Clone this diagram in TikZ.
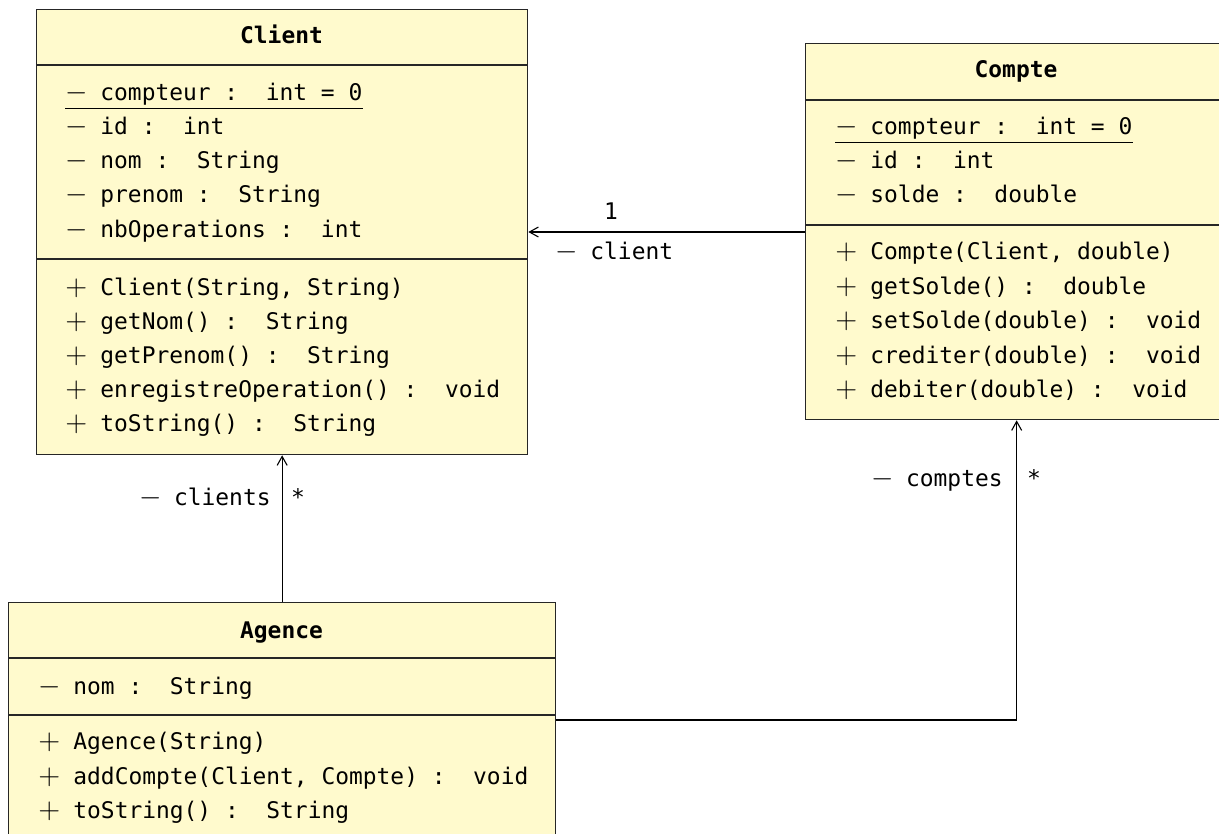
\documentclass[tikz,border=0pt]{standalone}
\usepackage{fontspec}
\setmonofont{DejaVu Sans Mono}
\usetikzlibrary{arrows.meta}
\definecolor{classfill}{RGB}{255,250,205}
\newcommand{\umlpriv}{\makebox[17.5pt][l]{\fontsize{13.5pt}{17pt}\selectfont$-$}}
\newcommand{\umlpub}{\makebox[17.5pt][l]{\fontsize{13.5pt}{17pt}\selectfont$+$}}

\begin{document}
\begin{tikzpicture}[x=0.5pt,y=-0.5pt,
    classbox/.style={draw=black!85,fill=classfill,line width=0.65pt,anchor=north west,inner sep=0pt},
    member/.style={anchor=base west,inner sep=0pt,font=\ttfamily\fontsize{11.45pt}{17pt}\selectfont},
    title/.style={anchor=base,inner sep=0pt,font=\ttfamily\bfseries\fontsize{11.45pt}{17pt}\selectfont},
    assoc/.style={-{Straight Barb[length=4.5pt,width=5pt]},line width=0.55pt},
    sep/.style={draw=black!85,line width=0.65pt}]
  \useasboundingbox (0,0) rectangle (1219,834);

  % classes
  \node[classbox,minimum width=245.5pt,minimum height=222.5pt] (client) at (36,9) {};
  \node[classbox,minimum width=211pt,minimum height=188pt] (compte) at (805,43) {};
  \node[classbox,minimum width=273.5pt,minimum height=122pt] (agence) at (8,602) {};
  \draw[sep] (client.west |- 0,65) -- (client.east |- 0,65); \draw[sep]
  (client.west |- 0,259) -- (client.east |- 0,259); \draw[sep]
  (compte.west |- 0,100) -- (compte.east |- 0,100); \draw[sep]
  (compte.west |- 0,225) -- (compte.east |- 0,225); \draw[sep]
  (agence.west |- 0,658) -- (agence.east |- 0,658); \draw[sep]
  (agence.west |- 0,715) -- (agence.east |- 0,715);

  % Client
  \node[title] (cl-t) at (281.5,44) {Client};
  \node[member] (cl-a1) at (65,101) {\umlpriv compteur :\ \ int = 0};
  \node[member] (cl-a2) at (65,135) {\umlpriv id :\ \ int};
  \node[member] (cl-a3) at (65,169) {\umlpriv nom :\ \ String};
  \node[member] (cl-a4) at (65,203) {\umlpriv prenom :\ \ String};
  \node[member] (cl-a5) at (65,237) {\umlpriv nbOperations :\ \ int};
  \node[member] (cl-m1) at (65,295) {\umlpub Client(String, String)};
  \node[member] (cl-m2) at (65,329) {\umlpub getNom() :\ \ String};
  \node[member] (cl-m3) at (65,363) {\umlpub getPrenom() :\ \ String};
  \node[member] (cl-m4) at (65,397) {\umlpub enregistreOperation() :\ \ void};
  \node[member] (cl-m5) at (65,431) {\umlpub toString() :\ \ String};
  \draw[line width=0.55pt] ([yshift=-1pt]cl-a1.south west) -- ([yshift=-1pt]cl-a1.south east);

  % Compte
  \node[title] (co-t) at (1016,78) {Compte};
  \node[member] (co-a1) at (835,135) {\umlpriv compteur :\ \ int = 0};
  \node[member] (co-a2) at (835,169) {\umlpriv id :\ \ int};
  \node[member] (co-a3) at (835,203) {\umlpriv solde :\ \ double};
  \node[member] (co-m1) at (835,259) {\umlpub Compte(Client, double)};
  \node[member] (co-m2) at (835,294) {\umlpub getSolde() :\ \ double};
  \node[member] (co-m3) at (835,328) {\umlpub setSolde(double) :\ \ void};
  \node[member] (co-m4) at (835,363) {\umlpub crediter(double) :\ \ void};
  \node[member] (co-m5) at (835,397) {\umlpub debiter(double) :\ \ void};
  \draw[line width=0.55pt] ([yshift=-1pt]co-a1.south west) -- ([yshift=-1pt]co-a1.south east);

  % Agence
  \node[title] (ag-t) at (281.5,638) {Agence};
  \node[member] (ag-a1) at (38,694) {\umlpriv nom :\ \ String};
  \node[member] (ag-m1) at (38,749) {\umlpub Agence(String)};
  \node[member] (ag-m2) at (38,784) {\umlpub addCompte(Client, Compte) :\ \ void};
  \node[member] (ag-m3) at (38,818) {\umlpub toString() :\ \ String};

  % associations
  \draw[assoc] (compte.west |- 0,232) -- (client.east |- 0,232);
  \draw[assoc] (agence.north) -- (client.south);
  \draw[assoc] (agence.east |- 0,720) -| (compte.south);
  \node[member,anchor=base] (m-client) at (611,220) {1};
  \node[member] (r-client) at (555,259) {\umlpriv client};
  \node[member,anchor=base east] (r-clients) at (271,505) {\umlpriv clients};
  \node[member,anchor=base] (m-clients) at (298,505) {*};
  \node[member,anchor=base east] (r-comptes) at (1003,486) {\umlpriv comptes};
  \node[member,anchor=base] (m-comptes) at (1034,486) {*};
\end{tikzpicture}
\end{document}
